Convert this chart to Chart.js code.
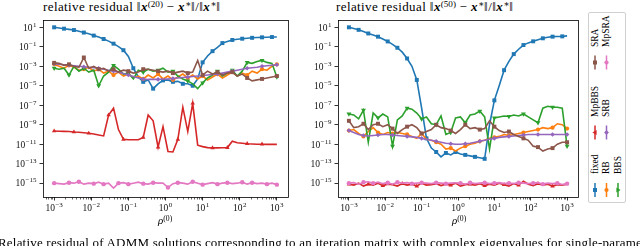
<!DOCTYPE html>
<html>
<head>
<meta charset="utf-8">
<script src="https://cdn.jsdelivr.net/npm/chart.js@4.4.1/dist/chart.umd.min.js"></script>
<style>
  body { margin: 0; background: #fff; }
  #wrap { position: relative; width: 640px; height: 246px; overflow: hidden; background: #fff; font-family: "Liberation Serif", "DejaVu Serif", serif; color: #000; }
  .plot { position: absolute; top: 0; }
  .ttl { position: absolute; top: 0px; font-size: 13px; letter-spacing: 0.4px; line-height: 1; white-space: nowrap; }
  .bx { font-weight: bold; font-style: italic; }
  .sup { font-size: 0.7em; position: relative; top: -0.45em; letter-spacing: 0; }
  .xl { position: absolute; top: 215px; font-size: 11px; line-height: 1; white-space: nowrap; }
  .cap { position: absolute; left: -2px; top: 236px; font-size: 13px; letter-spacing: 0.2px; line-height: 1; white-space: nowrap; }
  #legend { position: absolute; left: 588px; top: 12px; width: 36px; height: 189px; border: 1px solid #d0d0d0; border-radius: 2px; background: #fff; }
  .lg { position: absolute; font-size: 9.5px; line-height: 9px; white-space: nowrap; transform-origin: 0 0; transform: rotate(-90deg); }
</style>
</head>
<body>
<div id="wrap">
  <div class="ttl" style="left:43px">relative residual ‖<span class="bx">x</span><span class="sup">(20)</span> − <span class="bx">x</span><span class="sup">∗</span>‖/‖<span class="bx">x</span><span class="sup">∗</span>‖</div>
  <div class="ttl" style="left:336px">relative residual ‖<span class="bx">x</span><span class="sup">(50)</span> − <span class="bx">x</span><span class="sup">∗</span>‖/‖<span class="bx">x</span><span class="sup">∗</span>‖</div>
  <div class="plot" style="left:0"><canvas id="chart20" width="300" height="232"></canvas></div>
  <div class="plot" style="left:300px"><canvas id="chart50" width="290" height="232"></canvas></div>
  <div class="xl" style="left:158px"><i>ρ</i><span class="sup">(0)</span></div>
  <div class="xl" style="left:452px"><i>ρ</i><span class="sup">(0)</span></div>
  <div id="legend"></div>
  <div class="cap">Relative residual of ADMM solutions corresponding to an iteration matrix with complex eigenvalues for single-parameter</div>
</div>
<script>
// --- Data: rho^(0) grid (log10) and log10 of relative residual per method ---
const rhoExp = [-3.000, -2.867, -2.733, -2.600, -2.467, -2.333, -2.200, -2.067, -1.933, -1.800,
  -1.667, -1.533, -1.400, -1.267, -1.133, -1.000, -0.867, -0.733, -0.600, -0.467,
  -0.333, -0.200, -0.067, 0.067, 0.200, 0.333, 0.467, 0.600, 0.733, 0.867,
  1.000, 1.133, 1.267, 1.400, 1.533, 1.667, 1.800, 1.933, 2.067, 2.200,
  2.333, 2.467, 2.600, 2.733, 2.867, 3.000];

// iteration 20
const fixed20 = [1.0, 0.93, 0.86, 0.79, 0.72, 0.6, 0.46, 0.33, 0.15, 0.0,
  -0.2, -0.42, -0.68, -0.98, -1.35, -2.0, -3.2, -4.1, -4.6, -4.4,
  -5.3, -4.8, -4.45, -4.4, -4.6, -4.55, -4.8, -4.8, -5.0, -4.3,
  -2.6, -1.95, -1.45, -1.05, -0.62, -0.45, -0.3, -0.22, -0.17, -0.12,
  -0.08, -0.05, -0.03, -0.02, 0.0, 0.0];
const rb20 = [-2.8, -3.0, -3.2, -2.9, -3.1, -3.4, -3.3, -3.1, -3.5, -3.3,
  -3.7, -3.5, -3.9, -3.6, -4.0, -3.8, -4.2, -4.0, -4.3, -3.9,
  -4.2, -3.8, -4.3, -4.0, -4.4, -4.1, -3.8, -4.2, -3.9, -4.3,
  -4.0, -4.4, -4.1, -3.8, -4.2, -3.9, -3.6, -4.0, -3.7, -3.9,
  -3.5, -3.7, -3.3, -3.4, -3.0, -2.8];
const bbs20 = [-3.2, -3.3, -3.2, -3.9, -3.0, -3.5, -3.2, -3.6, -3.4, -5.0,
  -4.0, -3.6, -2.9, -3.3, -3.8, -3.7, -4.3, -3.4, -3.6, -3.3,
  -3.5, -3.4, -3.2, -3.6, -3.5, -4.0, -4.3, -4.5, -4.8, -5.3,
  -4.7, -4.2, -3.9, -3.5, -4.0, -3.7, -3.4, -4.0, -3.5, -2.6,
  -2.7, -2.5, -2.4, -2.6, -2.7, -4.1];
const mpbbs20 = [-9.65, -9.67, -9.68, -9.7, -9.75, -9.78, -9.82, -9.88, -9.95, -10.05,
  -10.15, -8.0, -7.3, -9.5, -10.5, -10.55, -10.55, -10.55, -10.3, -8.0,
  -8.6, -11.3, -9.2, -11.75, -11.8, -10.5, -7.2, -9.7, -6.8, -11.1,
  -11.25, -11.35, -11.38, -11.38, -11.37, -11.35, -10.7, -10.85, -10.9, -10.95,
  -10.98, -11.0, -11.0, -11.02, -11.02, -11.02];
const srb20 = [-2.75, -2.8, -2.85, -2.9, -2.95, -3.0, -3.05, -3.1, -3.15, -3.2,
  -3.3, -3.4, -3.5, -3.6, -3.75, -3.9, -4.05, -4.2, -4.3, -4.35,
  -4.35, -4.35, -4.3, -4.3, -4.25, -4.2, -4.15, -4.1, -4.05, -4.0,
  -3.95, -3.9, -3.85, -3.8, -3.7, -3.6, -3.5, -3.4, -3.3, -3.2,
  -3.15, -3.1, -3.0, -2.95, -2.9, -2.85];
const sra20 = [-2.65, -2.7, -2.9, -2.8, -3.0, -3.1, -2.1, -3.2, -3.0, -3.3,
  -3.2, -3.5, -3.3, -3.6, -3.4, -3.5, -3.7, -3.6, -3.3, -3.3,
  -3.4, -3.5, -3.6, -3.5, -3.7, -3.6, -3.5, -3.7, -3.6, -2.4,
  -3.9, -3.5, -3.8, -3.6, -3.9, -3.7, -3.6, -4.0, -3.8, -4.2,
  -4.5, -4.4, -4.3, -4.2, -4.1, -4.0];
const mpsra20 = [-15.0, -15.05, -15.1, -14.95, -15.0, -14.85, -15.1, -15.0, -15.05, -14.9,
  -15.1, -15.0, -15.5, -15.0, -14.95, -15.1, -15.0, -14.9, -15.05, -15.1,
  -14.95, -15.0, -15.0, -15.45, -15.05, -14.95, -15.0, -15.1, -14.85, -15.0,
  -15.15, -15.05, -14.95, -15.1, -15.0, -14.95, -15.05, -15.0, -14.9, -15.1,
  -14.95, -15.05, -15.0, -15.1, -15.0, -15.15];

// iteration 50
const fixed50 = [1.0, 0.87, 0.74, 0.57, 0.37, 0.2, 0.04, -0.2, -0.45, -0.75,
  -1.1, -1.55, -2.2, -3.0, -4.4, -7.3, -10.4, -11.4, -11.8, -12.3,
  -11.9, -12.1, -11.8, -12.0, -12.1, -12.2, -12.3, -12.4, -12.5, -9.0,
  -6.5, -5.0, -3.4, -2.5, -1.75, -1.25, -0.82, -0.6, -0.44, -0.27,
  -0.13, -0.02, 0.04, 0.06, 0.07, 0.12];
const rb50 = [-9.6, -9.5, -9.9, -10.2, -9.7, -9.3, -9.8, -10.0, -9.8, -9.9,
  -9.8, -9.9, -10.0, -10.2, -10.4, -9.9, -10.5, -10.6, -10.8, -11.0,
  -11.5, -11.4, -11.7, -11.4, -11.2, -11.0, -10.9, -10.7, -10.6, -10.4,
  -10.3, -10.2, -10.0, -10.1, -10.0, -9.9, -9.8, -9.7, -9.6, -9.5,
  -9.3, -9.4, -9.3, -8.9, -9.0, -9.4];
const bbs50 = [-7.9, -8.0, -8.4, -7.5, -10.8, -7.8, -8.3, -7.9, -8.2, -11.2,
  -8.5, -8.1, -7.3, -7.4, -7.8, -8.4, -8.2, -8.9, -9.0, -8.1,
  -10.0, -9.8, -8.3, -8.2, -8.8, -8.0, -7.9, -7.6, -8.2, -11.5,
  -8.3, -8.2, -8.1, -8.15, -8.0, -8.1, -7.9, -8.2, -8.5, -8.8,
  -7.3, -7.1, -7.2, -7.2, -7.3, -11.2];
const mpbbs50 = [-15.1, -15.2, -15.0, -15.3, -15.1, -15.2, -15.0, -15.25, -15.1, -15.15,
  -15.3, -15.05, -15.2, -15.1, -15.3, -15.0, -15.2, -15.15, -15.05, -15.25,
  -15.1, -15.2, -15.0, -15.3, -15.15, -15.1, -15.2, -15.05, -15.25, -15.1,
  -15.2, -15.0, -15.15, -15.3, -15.05, -15.2, -14.8, -15.1, -15.25, -15.05,
  -15.2, -15.1, -15.3, -15.15, -15.2, -15.1];
const srb50 = [-9.6, -9.8, -10.0, -10.1, -10.15, -10.1, -10.05, -10.0, -10.0, -10.05,
  -10.1, -10.15, -10.2, -10.25, -10.3, -10.4, -10.5, -10.6, -10.7, -10.8,
  -10.9, -10.95, -11.0, -11.0, -10.95, -10.9, -10.8, -10.7, -10.6, -10.5,
  -10.4, -10.3, -10.25, -10.2, -10.15, -10.1, -10.05, -10.0, -10.0, -10.0,
  -10.0, -10.0, -10.0, -10.0, -10.0, -10.0];
const sra50 = [-8.6, -9.3, -9.2, -8.9, -9.5, -9.0, -8.9, -9.2, -9.0, -9.4,
  -9.9, -9.5, -9.2, -9.0, -9.3, -9.9, -9.7, -9.5, -9.0, -9.3,
  -9.4, -9.6, -9.9, -9.5, -9.0, -9.4, -9.3, -9.5, -9.4, -8.6,
  -9.2, -9.6, -9.8, -9.7, -10.0, -10.2, -10.4, -10.6, -11.2, -11.3,
  -11.7, -11.5, -11.4, -11.0, -10.8, -10.8];
const mpsra50 = [-15.0, -14.95, -15.1, -14.9, -14.85, -15.0, -14.9, -15.05, -14.95, -15.1,
  -14.9, -15.0, -14.95, -15.05, -15.0, -14.95, -15.0, -15.05, -14.95, -15.0,
  -15.05, -15.0, -14.95, -15.0, -15.1, -14.95, -15.05, -15.0, -14.95, -15.05,
  -15.0, -14.95, -15.05, -15.0, -15.05, -14.95, -15.0, -15.05, -15.0, -14.95,
  -15.1, -15.0, -15.05, -15.0, -15.15, -15.05];

// --- Axes ---
const xTickExps = [-3, -2, -1, 0, 1, 2, 3];
const yTickExps = [1, -1, -3, -5, -7, -9, -11, -13, -15];

// --- Series styling ---
const seriesNames = ['fixed', 'RB', 'BBS', 'MpBBS', 'SRB', 'SRA', 'MpSRA'];
const seriesColors = ['#1f77b4', '#ff7f0e', '#2ca02c', '#d62728', '#9467bd', '#8c564b', '#e377c2'];
const seriesMarkers = ['rect', 'circle', 'triangle', 'triangle', 'rectRot', 'rect', 'circle'];
const seriesRotation = [0, 0, 180, 0, 0, 0, 0];
const markerRadius = [2.8, 2.1, 2.8, 2.6, 2.3, 2.8, 2.2];
const markerEvery = [2, 3, 3, 3.5, 3, 3, 2.5]; // in grid points

const FONT = '"Liberation Serif", "DejaVu Serif", serif';

function markerSet(every) {
    const s = new Set();
    for (let j = 0; j * every <= rhoExp.length - 1 + 0.01; j++) s.add(Math.round(j * every));
    return s;
}

// draw "10" with a raised exponent; align: 'center' (x axis) or 'right' (y axis)
function drawPow(ctx, e, x, baseline, align) {
    const expText = e < 0 ? '−' + (-e) : String(e);
    ctx.font = '9.5px ' + FONT;
    const wBase = ctx.measureText('10').width;
    ctx.font = '7px ' + FONT;
    const wExp = ctx.measureText(expText).width;
    const total = wBase + wExp + 0.5;
    const x0 = align === 'center' ? x - total / 2 : x - total;
    ctx.font = '9.5px ' + FONT;
    ctx.fillText('10', x0, baseline);
    ctx.font = '7px ' + FONT;
    ctx.fillText(expText, x0 + wBase + 0.5, baseline - 4);
}

// box around the axes, minor ticks on the x axis, power-of-ten tick labels
const framePlugin = {
    id: 'frame',
    afterDraw(chart) {
        const { ctx, chartArea: a } = chart;
        const xs = chart.scales.x;
        const ys = chart.scales.y;
        ctx.save();
        ctx.strokeStyle = '#000';
        ctx.lineWidth = 0.8;
        ctx.strokeRect(Math.round(a.left) + 0.5, Math.round(a.top) + 0.5,
            Math.round(a.right - a.left), Math.round(a.bottom - a.top));
        ctx.lineWidth = 0.6;
        ctx.beginPath();
        for (let e = -4; e <= 3; e++) {
            for (let m = 2; m <= 9; m++) {
                const v = m * Math.pow(10, e);
                if (v < xs.min || v > xs.max) continue;
                const px = Math.round(xs.getPixelForValue(v)) + 0.5;
                ctx.moveTo(px, a.bottom + 0.5);
                ctx.lineTo(px, a.bottom + 2.5);
            }
        }
        ctx.stroke();
        ctx.fillStyle = '#111';
        ctx.textBaseline = 'alphabetic';
        ctx.textAlign = 'left';
        xTickExps.forEach(e => drawPow(ctx, e, xs.getPixelForValue(Math.pow(10, e)), a.bottom + 14, 'center'));
        yTickExps.forEach(e => drawPow(ctx, e, a.left - 6.5, ys.getPixelForValue(Math.pow(10, e)) + 3.3, 'right'));
        ctx.restore();
    }
};

function buildChart(canvasId, seriesList, yAxisWidth, rightPad) {
    const datasets = seriesList.map((vals, i) => {
        const marks = markerSet(markerEvery[i]);
        return {
            label: seriesNames[i],
            data: rhoExp.map((e, k) => ({ x: Math.pow(10, e), y: Math.pow(10, vals[k]) })),
            borderColor: seriesColors[i],
            backgroundColor: seriesColors[i],
            borderWidth: 1.6,
            pointStyle: seriesMarkers[i],
            rotation: seriesRotation[i],
            pointRadius: ctx => marks.has(ctx.dataIndex) ? markerRadius[i] : 0,
            pointBorderWidth: 0,
            tension: 0,
            order: seriesList.length - i
        };
    });

    return new Chart(document.getElementById(canvasId), {
        type: 'line',
        data: { datasets: datasets },
        options: {
            responsive: false,
            animation: false,
            events: [],
            layout: { padding: { top: 20, right: rightPad, left: 0, bottom: 0 } },
            plugins: { legend: { display: false }, tooltip: { enabled: false }, title: { display: false } },
            scales: {
                x: {
                    type: 'logarithmic',
                    bounds: 'data',
                    min: Math.pow(10, -3.3),
                    max: Math.pow(10, 3.3),
                    afterBuildTicks: s => { s.ticks = xTickExps.map(e => ({ value: Math.pow(10, e) })); },
                    afterFit: s => { s.height = 35; },
                    border: { display: false },
                    grid: { drawOnChartArea: false, tickLength: 3.5, tickColor: '#000', tickWidth: 0.8 },
                    ticks: { display: false, autoSkip: false, maxRotation: 0 }
                },
                y: {
                    type: 'logarithmic',
                    bounds: 'data',
                    min: Math.pow(10, -16.42),
                    max: Math.pow(10, 1.75),
                    afterBuildTicks: s => { s.ticks = yTickExps.map(e => ({ value: Math.pow(10, e) })); },
                    afterFit: s => { s.width = yAxisWidth; },
                    border: { display: false },
                    grid: { drawOnChartArea: false, tickLength: 3.5, tickColor: '#000', tickWidth: 0.8 },
                    ticks: { display: false, autoSkip: false }
                }
            }
        },
        plugins: [framePlugin]
    });
}

buildChart('chart20', [fixed20, rb20, bbs20, mpbbs20, srb20, sra20, mpsra20], 43, 12);
buildChart('chart50', [fixed50, rb50, bbs50, mpbbs50, srb50, sra50, mpsra50], 38, 12);

// --- Rotated legend (columns of the original legend stacked bottom to top) ---
const legendSlots = [
    // [series index, column center x, handle center y] relative to the legend box
    [0, 6, 177], [1, 17.5, 177], [2, 29, 177],
    [3, 6, 119.5], [4, 17.5, 119.5],
    [5, 6, 49.5], [6, 17.5, 49.5]
];

function legendMarkerSvg(i, cx, cy) {
    const c = seriesColors[i];
    switch (i) {
        case 0: case 5: return `<rect x="${cx - 2}" y="${cy - 2}" width="4" height="4" fill="${c}"/>`;
        case 1: case 6: return `<circle cx="${cx}" cy="${cy}" r="2.1" fill="${c}"/>`;
        case 2: return `<polygon points="${cx + 2.6},${cy} ${cx - 1.6},${cy - 2.6} ${cx - 1.6},${cy + 2.6}" fill="${c}"/>`;
        case 3: return `<polygon points="${cx - 2.6},${cy} ${cx + 1.6},${cy - 2.6} ${cx + 1.6},${cy + 2.6}" fill="${c}"/>`;
        default: return `<polygon points="${cx},${cy - 2.4} ${cx + 2.4},${cy} ${cx},${cy + 2.4} ${cx - 2.4},${cy}" fill="${c}"/>`;
    }
}

const legendEl = document.getElementById('legend');
let svg = '<svg width="36" height="189" style="position:absolute;left:0;top:0">';
legendSlots.forEach(([i, cx, cy]) => {
    svg += `<line x1="${cx}" y1="${cy - 7}" x2="${cx}" y2="${cy + 7}" stroke="${seriesColors[i]}" stroke-width="1.5"/>`;
    svg += legendMarkerSvg(i, cx, cy);
});
svg += '</svg>';
legendEl.innerHTML = svg;
legendSlots.forEach(([i, cx, cy]) => {
    const span = document.createElement('span');
    span.className = 'lg';
    span.textContent = seriesNames[i];
    span.style.left = (cx - 4.5) + 'px';
    span.style.top = (cy - 16) + 'px';
    legendEl.appendChild(span);
});
</script>
</body>
</html>
